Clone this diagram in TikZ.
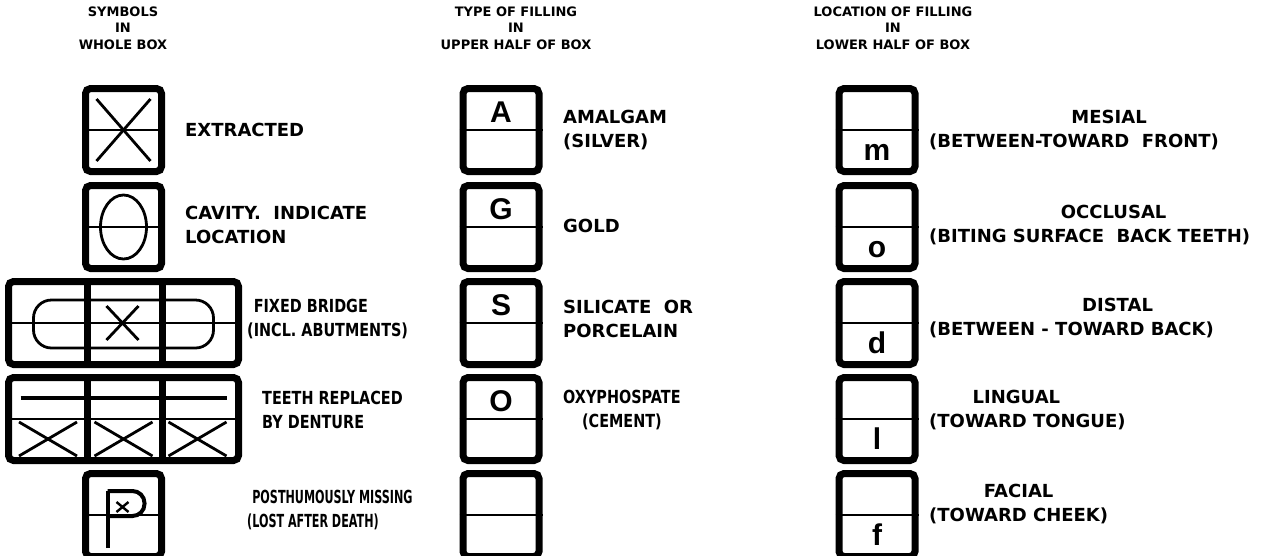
\documentclass[tikz,border=0pt]{standalone}
\usepackage{fontspec}
\setmainfont{DejaVu Sans}
\newfontfamily\narrowfont[FakeStretch=0.8]{DejaVu Sans}
\newfontfamily\narrowerfont[FakeStretch=0.62]{DejaVu Sans}
\newfontfamily\letterfont{Liberation Sans}
\usepackage{tikz}
\usetikzlibrary{calc}
\tikzset{
  tooth/.style={draw,line width=7pt,rounded corners=5pt,inner sep=0pt,
    minimum width=76pt,minimum height=83pt},
  bridge/.style={tooth,minimum width=230pt},
  half/.style={line width=1.6pt},
  sym/.style={line width=2.8pt},
  glyph/.style={font=\letterfont\bfseries\fontsize{30}{30}\selectfont,
    anchor=base,inner sep=0pt},
  head/.style={font=\bfseries\fontsize{13}{16.5}\selectfont,align=center,
    inner sep=0pt},
  legend/.style={font=\bfseries\fontsize{18}{24.5}\selectfont,anchor=west,
    inner sep=0pt},
  narrow/.style={legend,font=\narrowfont\bfseries\fontsize{18}{24.5}\selectfont},
  narrower/.style={legend,font=\narrowerfont\bfseries\fontsize{18}{24.5}\selectfont}
}

\begin{document}
\begin{tikzpicture}[x=1pt,y=-1pt]
  \clip (0,0) rectangle (1268,555);

  % column headings
  \node[head] (h1) at (123,28) {SYMBOLS\\IN\\WHOLE BOX};
  \node[head] (h2) at (516,28) {TYPE OF FILLING\\IN\\UPPER HALF OF BOX};
  \node[head] (h3) at (893,28) {LOCATION OF FILLING\\IN\\LOWER HALF OF BOX};

  % symbols in whole box
  \node[tooth] (ext) at (123.5,130) {};
  \node[tooth] (cav) at (123.5,227) {};
  \node[bridge] (brg) at (123.5,323) {};
  \node[bridge] (dent) at (123.5,419) {};
  \node[tooth] (post) at (123.5,515) {};
  \foreach \b in {ext,cav,brg,dent,post}
    \draw[half] (\b.west) -- (\b.east);

  \draw[sym] ($(ext.center)+(-27,-31)$) -- ($(ext.center)+(27,31)$);
  \draw[sym] ($(ext.center)+(-27,31)$) -- ($(ext.center)+(27,-31)$);
  \draw[sym] (cav.center) ellipse [x radius=23, y radius=32];

  \draw[sym,rounded corners=18pt] ($(brg.center)+(-90,-23)$) rectangle ($(brg.center)+(90,25)$);
  \draw[sym] ($(brg.center)+(-17,-17)$) -- ($(brg.center)+(15,17)$);
  \draw[sym] ($(brg.center)+(-17,17)$) -- ($(brg.center)+(15,-17)$);

  \draw[line width=4pt] ($(dent.center)+(-103,-21)$) -- ($(dent.center)+(103,-21)$);
  \foreach \dx in {-75.5,0,74} {
    \draw[sym] ($(dent.center)+(\dx-29,3)$) -- ($(dent.center)+(\dx+29,37)$);
    \draw[sym] ($(dent.center)+(\dx-29,37)$) -- ($(dent.center)+(\dx+29,3)$);
  }
  \foreach \b in {brg,dent} {
    \draw[line width=7pt] ($(\b.north)+(-36.5,0)$) -- ($(\b.south)+(-36.5,0)$);
    \draw[line width=7pt] ($(\b.north)+(38.5,0)$) -- ($(\b.south)+(38.5,0)$);
  }

  \draw[line width=4pt] ($(post.center)+(-16,33)$) -- ($(post.center)+(-16,-24)$);
  \draw[line width=4pt,rounded corners=12pt] ($(post.center)+(-16,-24)$) -- ($(post.center)+(21,-24)$)
    -- ($(post.center)+(21,1)$) -- ($(post.center)+(-16,1)$);
  \draw[line width=2.4pt] ($(post.center)+(-7,-13)$) -- ($(post.center)+(5,-3)$);
  \draw[line width=2.4pt] ($(post.center)+(-7,-3)$) -- ($(post.center)+(5,-13)$);

  \node[legend] (ext-t) at (185,130) {EXTRACTED};
  \node[legend,align=left] (cav-t) at (185,225) {CAVITY.\ \ INDICATE\\LOCATION};
  \node[narrow,align=left] (brg-t) at (247,319) {\phantom{(}FIXED BRIDGE\\(INCL. ABUTMENTS)};
  \node[narrow,align=left] (dent-t) at (262,410) {TEETH REPLACED\\BY DENTURE};
  \node[narrower,align=left] (post-t) at (247,510) {\phantom{(}POSTHUMOUSLY MISSING\\(LOST AFTER DEATH)};

  % type of filling
  \foreach \nm/\yy/\ch in {amal/130/A,gold/227/G,sil/323/S,oxy/419/O,blank/515/{}} {
    \node[tooth] (\nm) at (501,\yy) {};
    \draw[half] (\nm.west) -- (\nm.east);
    \node[glyph] (\nm-ch) at ($(\nm.center)+(0,-8)$) {\ch};
  }
  \node[legend,align=left] (amal-t) at (563,130) {AMALGAM\\(SILVER)};
  \node[legend] (gold-t) at (563,226) {GOLD};
  \node[legend,align=left] (sil-t) at (563,319) {SILICATE\ \ OR\\PORCELAIN};
  \node[narrow,align=center] (oxy-t) at (563,410) {OXYPHOSPATE\\(CEMENT)};

  % location of filling
  \foreach \nm/\yy/\ch in {mes/130/m,occ/227/o,dis/323/d,lin/419/l,fac/515/f} {
    \node[tooth] (\nm) at (877,\yy) {};
    \draw[half] (\nm.west) -- (\nm.east);
    \node[glyph] (\nm-ch) at ($(\nm.center)+(0,30)$) {\ch};
  }
  \node[legend,align=center] (mes-t) at (929,130) {\hspace*{70pt}MESIAL\\(BETWEEN-TOWARD\ \ FRONT)};
  \node[legend,align=center] (occ-t) at (929,225) {\hspace*{48pt}OCCLUSAL\\(BITING SURFACE\ \ BACK TEETH)};
  \node[legend,align=center] (dis-t) at (929,318) {\hspace*{92pt}DISTAL\\(BETWEEN - TOWARD BACK)};
  \node[legend,align=center] (lin-t) at (929,410) {LINGUAL\hspace*{22pt}\\(TOWARD TONGUE)};
  \node[legend,align=center] (fac-t) at (929,504) {FACIAL\\(TOWARD CHEEK)};
\end{tikzpicture}
\end{document}
